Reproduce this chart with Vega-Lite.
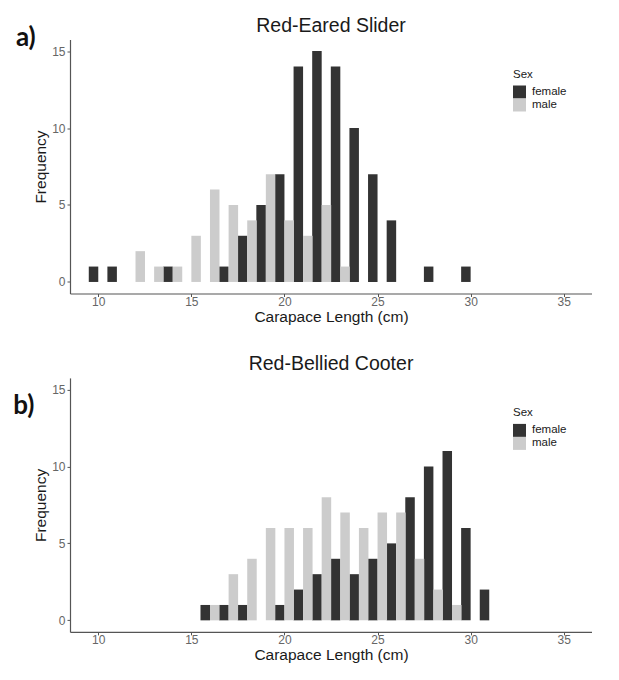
{
  "$schema": "https://vega.github.io/schema/vega-lite/v6.json",
  "background": "white",
  "padding": {"left": 13, "top": 15.5, "right": 0, "bottom": 0},
  "config": {
    "view": {"stroke": null},
    "font": "Liberation Sans",
    "axis": {
      "grid": false,
      "domainColor": "#555555",
      "domainWidth": 1.2,
      "tickColor": "#555555",
      "tickSize": 3,
      "labelColor": "#666666",
      "labelFontSize": 12,
      "labelPadding": 2,
      "titleFontSize": 15.5,
      "titleFontWeight": "normal",
      "titleColor": "#1a1a1a"
    },
    "title": {"fontSize": 19.5, "fontWeight": "normal", "color": "#1a1a1a"},
    "legend": {
      "orient": "none",
      "legendX": 443,
      "legendY": 29.5,
      "titleFontSize": 11.5,
      "titleFontWeight": "normal",
      "titleColor": "#1a1a1a",
      "titlePadding": 5,
      "labelFontSize": 11.5,
      "labelColor": "#1a1a1a",
      "labelOffset": 6,
      "symbolType": "square",
      "symbolSize": 169,
      "symbolStrokeWidth": 0,
      "rowPadding": 0
    }
  },
  "datasets": {
    "slider": [
      {"length": 10, "sex": "female", "count": 1},
      {"length": 11, "sex": "female", "count": 1},
      {"length": 14, "sex": "female", "count": 1},
      {"length": 17, "sex": "female", "count": 1},
      {"length": 18, "sex": "female", "count": 3},
      {"length": 19, "sex": "female", "count": 5},
      {"length": 20, "sex": "female", "count": 7},
      {"length": 21, "sex": "female", "count": 14},
      {"length": 22, "sex": "female", "count": 15},
      {"length": 23, "sex": "female", "count": 14},
      {"length": 24, "sex": "female", "count": 10},
      {"length": 25, "sex": "female", "count": 7},
      {"length": 26, "sex": "female", "count": 4},
      {"length": 28, "sex": "female", "count": 1},
      {"length": 30, "sex": "female", "count": 1},
      {"length": 12, "sex": "male", "count": 2},
      {"length": 13, "sex": "male", "count": 1},
      {"length": 14, "sex": "male", "count": 1},
      {"length": 15, "sex": "male", "count": 3},
      {"length": 16, "sex": "male", "count": 6},
      {"length": 17, "sex": "male", "count": 5},
      {"length": 18, "sex": "male", "count": 4},
      {"length": 19, "sex": "male", "count": 7},
      {"length": 20, "sex": "male", "count": 4},
      {"length": 21, "sex": "male", "count": 3},
      {"length": 22, "sex": "male", "count": 5},
      {"length": 23, "sex": "male", "count": 1}
    ],
    "cooter": [
      {"length": 16, "sex": "female", "count": 1},
      {"length": 17, "sex": "female", "count": 1},
      {"length": 18, "sex": "female", "count": 1},
      {"length": 20, "sex": "female", "count": 1},
      {"length": 21, "sex": "female", "count": 2},
      {"length": 22, "sex": "female", "count": 3},
      {"length": 23, "sex": "female", "count": 4},
      {"length": 24, "sex": "female", "count": 3},
      {"length": 25, "sex": "female", "count": 4},
      {"length": 26, "sex": "female", "count": 5},
      {"length": 27, "sex": "female", "count": 8},
      {"length": 28, "sex": "female", "count": 10},
      {"length": 29, "sex": "female", "count": 11},
      {"length": 30, "sex": "female", "count": 6},
      {"length": 31, "sex": "female", "count": 2},
      {"length": 16, "sex": "male", "count": 1},
      {"length": 17, "sex": "male", "count": 3},
      {"length": 18, "sex": "male", "count": 4},
      {"length": 19, "sex": "male", "count": 6},
      {"length": 20, "sex": "male", "count": 6},
      {"length": 21, "sex": "male", "count": 6},
      {"length": 22, "sex": "male", "count": 8},
      {"length": 23, "sex": "male", "count": 7},
      {"length": 24, "sex": "male", "count": 6},
      {"length": 25, "sex": "male", "count": 7},
      {"length": 26, "sex": "male", "count": 7},
      {"length": 27, "sex": "male", "count": 4},
      {"length": 28, "sex": "male", "count": 2},
      {"length": 29, "sex": "male", "count": 1}
    ]
  },
  "spacing": 28.4,
  "resolve": {"scale": {"color": "independent"}, "legend": {"color": "independent"}},
  "vconcat": [
    {
      "title": {"text": "a)", "orient": "left", "anchor": "end", "angle": 0, "offset": -22, "dy": 9, "font": "Lato", "fontSize": 26, "fontWeight": "bold", "color": "#111111"},
      "vconcat": [
        {
          "title": {"text": "Red-Eared Slider", "offset": 3.3},
          "width": 522,
          "height": 254,
          "data": {"name": "slider"},
          "encoding": {
            "x": {"field": "length", "type": "quantitative", "title": "Carapace Length (cm)",
              "scale": {"domain": [8.75, 36.25], "nice": false, "zero": false},
              "axis": {"values": [10, 15, 20, 25, 30, 35], "labelPadding": 0, "titlePadding": 2}},
            "y": {"field": "count", "type": "quantitative", "title": "Frequency", "stack": null,
              "scale": {"domain": [-0.75, 15.75], "nice": false, "zero": false},
              "axis": {"values": [0, 5, 10, 15], "titlePadding": 3}},
            "color": {"field": "sex", "type": "nominal", "title": "Sex",
              "scale": {"domain": ["female", "male"], "range": ["#333333", "#cccccc"]}}
          },
          "layer": [
            {"transform": [{"filter": "datum.sex == 'female'"}], "mark": {"type": "bar", "width": 9.5, "xOffset": -4.75}},
            {"transform": [{"filter": "datum.sex == 'male'"}], "mark": {"type": "bar", "width": 9.5, "xOffset": 4.75}}
          ]
        }
      ]
    },
    {
      "title": {"text": "b)", "orient": "left", "anchor": "end", "angle": 0, "offset": -22, "dy": 39, "font": "Lato", "fontSize": 26, "fontWeight": "bold", "color": "#111111"},
      "vconcat": [
        {
          "title": {"text": "Red-Bellied Cooter", "offset": 3.3},
          "width": 522,
          "height": 254,
          "data": {"name": "cooter"},
          "encoding": {
            "x": {"field": "length", "type": "quantitative", "title": "Carapace Length (cm)",
              "scale": {"domain": [8.75, 36.25], "nice": false, "zero": false},
              "axis": {"values": [10, 15, 20, 25, 30, 35], "labelPadding": 0, "titlePadding": 2}},
            "y": {"field": "count", "type": "quantitative", "title": "Frequency", "stack": null,
              "scale": {"domain": [-0.75, 15.75], "nice": false, "zero": false},
              "axis": {"values": [0, 5, 10, 15], "titlePadding": 3}},
            "color": {"field": "sex", "type": "nominal", "title": "Sex",
              "scale": {"domain": ["female", "male"], "range": ["#333333", "#cccccc"]}}
          },
          "layer": [
            {"transform": [{"filter": "datum.sex == 'female'"}], "mark": {"type": "bar", "width": 9.5, "xOffset": -4.75}},
            {"transform": [{"filter": "datum.sex == 'male'"}], "mark": {"type": "bar", "width": 9.5, "xOffset": 4.75}}
          ]
        }
      ]
    }
  ]
}
